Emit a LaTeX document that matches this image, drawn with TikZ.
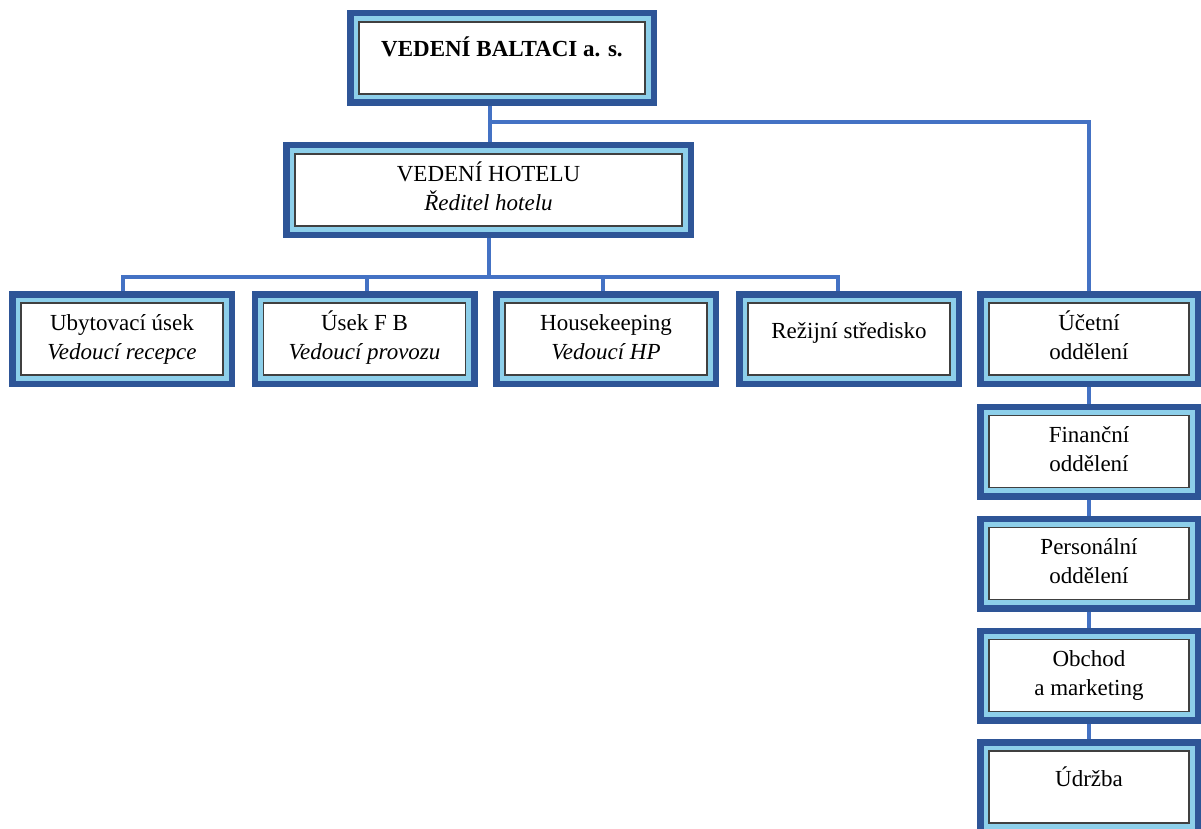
\documentclass[tikz,border=0pt]{standalone}
\usepackage{fontspec}
\setmainfont{Liberation Serif}
\usetikzlibrary{backgrounds}
\definecolor{dkblue}{HTML}{2E5597}
\definecolor{ltblue}{HTML}{8DCFEA}
\definecolor{lnblue}{HTML}{4472C4}
\definecolor{frgray}{HTML}{404040}
\begin{document}
\begin{tikzpicture}[x=1pt,y=-1pt,
  box/.style={rectangle, inner sep=0pt, outer sep=12pt, fill=white, draw=frgray,
    line width=1.3pt, font=\fontsize{23}{29}\selectfont,
    minimum width=202pt, minimum height=72pt,
    preaction={draw=dkblue, line width=24pt},
    preaction={draw=ltblue, line width=11pt}},
  one/.style={text height=16pt, text depth=18pt},
  two/.style={align=center},
  conn/.style={draw=lnblue, line width=3.3pt}]
\useasboundingbox (0,0) rectangle (1201,829);

\node[box, one, minimum width=286pt, font=\fontsize{23}{29}\selectfont\bfseries] (top) at (502,58) {VEDENÍ BALTACI a. s.};
\node[box, two, minimum width=387pt] (hotel) at (488.5,190) {VEDENÍ HOTELU\strut\\\textit{Ředitel hotelu}\strut};

\node[box, two] (ub) at (122,339) {Ubytovací úsek\strut\\\textit{Vedoucí recepce}\strut};
\node[box, two] (fb) at (364.5,339) {Úsek F B\strut\\\textit{Vedoucí provozu}\strut};
\node[box, two] (hk) at (606,339) {Housekeeping\strut\\\textit{Vedoucí HP}\strut};
\node[box, one] (rez) at (849,339) {Režijní středisko};
\node[box, two, minimum width=200pt] (uc) at (1089,339) {Účetní\strut\\oddělení\strut};
\node[box, two, minimum width=200pt] (fin) at (1089,451.5) {Finanční\strut\\oddělení\strut};
\node[box, two, minimum width=200pt] (pers) at (1089,563.5) {Personální\strut\\oddělení\strut};
\node[box, two, minimum width=200pt] (obch) at (1089,675.5) {Obchod\strut\\a marketing\strut};
\node[box, one, minimum width=200pt] (udr) at (1089,787) {Údržba};

\coordinate (j1) at (490,122);
\coordinate (j2) at (489,277);
\coordinate (bl) at (123,277);
\coordinate (br) at (838,277);

\begin{scope}[on background layer]
\draw[conn] (top.south -| j1) -- (hotel.north -| j1);
\draw[conn] (j1) -| (uc.north);
\draw[conn] (hotel.south -| j2) -- (j2);
\draw[conn] (ub.north -| bl) -- (bl) -- (br) -- (rez.north -| br);
\draw[conn] ([xshift=2.5pt]fb.north |- j2) -- ([xshift=2.5pt]fb.north);
\draw[conn] ([xshift=-3pt]hk.north |- j2) -- ([xshift=-3pt]hk.north);
\draw[conn] (uc.south) -- (fin.north);
\draw[conn] (fin.south) -- (pers.north);
\draw[conn] (pers.south) -- (obch.north);
\draw[conn] (obch.south) -- (udr.north);
\end{scope}
\end{tikzpicture}
\end{document}
